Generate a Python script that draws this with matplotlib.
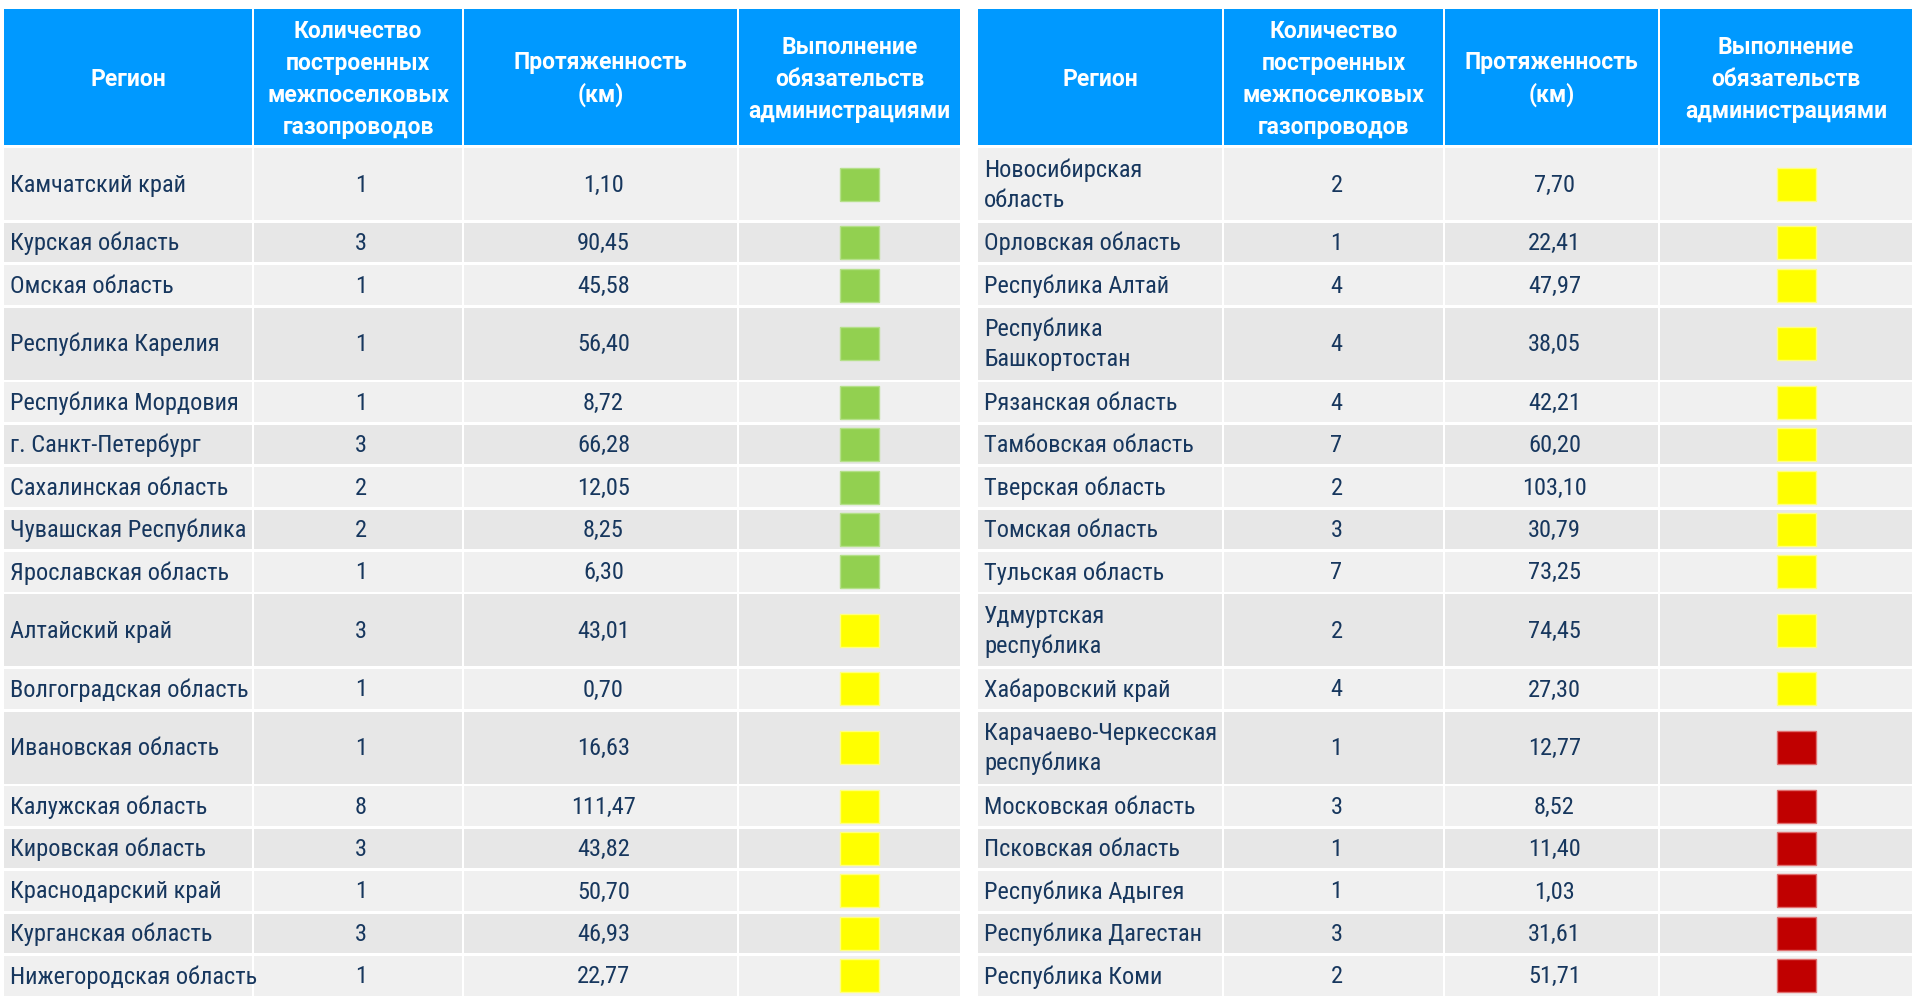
import matplotlib
matplotlib.use("Agg")
import matplotlib.pyplot as plt
from matplotlib import font_manager as fm
from matplotlib.patches import Rectangle

# --- data ---------------------------------------------------------------
headers = ["Регион",
           "Количество\nпостроенных\nмежпоселковых\nгазопроводов",
           "Протяженность\n(км)",
           "Выполнение\nобязательств\nадминистрациями"]

left_regions = ["Камчатский край", "Курская область", "Омская область",
                "Республика Карелия", "Республика Мордовия", "г. Санкт-Петербург",
                "Сахалинская область", "Чувашская Республика", "Ярославская область",
                "Алтайский край", "Волгоградская область", "Ивановская область",
                "Калужская область", "Кировская область", "Краснодарский край",
                "Курганская область", "Нижегородская область"]
left_counts = [1, 3, 1, 1, 1, 3, 2, 2, 1, 3, 1, 1, 8, 3, 1, 3, 1]
left_length = ["1,10", "90,45", "45,58", "56,40", "8,72", "66,28", "12,05", "8,25",
               "6,30", "43,01", "0,70", "16,63", "111,47", "43,82", "50,70",
               "46,93", "22,77"]
left_status = ["green"] * 9 + ["yellow"] * 8

right_regions = ["Новосибирская\nобласть", "Орловская область", "Республика Алтай",
                 "Республика\nБашкортостан", "Рязанская область", "Тамбовская область",
                 "Тверская область", "Томская область", "Тульская область",
                 "Удмуртская\nреспублика", "Хабаровский край",
                 "Карачаево-Черкесская\nреспублика", "Московская область",
                 "Псковская область", "Республика Адыгея", "Республика Дагестан",
                 "Республика Коми"]
right_counts = [2, 1, 4, 4, 4, 7, 2, 3, 7, 2, 4, 1, 3, 1, 1, 3, 2]
right_length = ["7,70", "22,41", "47,97", "38,05", "42,21", "60,20", "103,10",
                "30,79", "73,25", "74,45", "27,30", "12,77", "8,52", "11,40",
                "1,03", "31,61", "51,71"]
right_status = ["yellow"] * 11 + ["red"] * 6

status_colors = {"green": "#92D050", "yellow": "#FFFF00", "red": "#C00000"}
status_edges = {"green": "#B5E08A", "yellow": "#FFFF80", "red": "#E07070"}

# --- layout (pixels) ----------------------------------------------------
W, H = 1913, 996
HEAD_TOP, HEAD_BOT = 9, 145
ROW_START = 148
SHORT_H, TALL_H, GAP = 39.6, 72, 2.8
left_cols = [3, 253, 463, 738, 961]
right_cols = [977, 1223, 1444, 1659, 1913]

HEAD_BLUE = "#0099FF"
ROW_LIGHT, ROW_DARK = "#F0F0F0", "#E7E7E7"
TEXT = "#17375E"

# narrow sans for the body, like Arial Narrow in the source
installed = {f.name for f in fm.fontManager.ttflist}
body_family = "DejaVu Sans"
body_stretch = "condensed"
for cand in ["Roboto Condensed", "Fira Sans Condensed", "IBM Plex Sans Condensed"]:
    if cand in installed:
        body_family, body_stretch = cand, "condensed"
        break
head_font = ["Roboto", "DejaVu Sans"]
BODY = dict(color=TEXT, fontsize=17.6, family=body_family, fontstretch=body_stretch,
            va="center")

fig = plt.figure(figsize=(W / 100, H / 100), dpi=100)
ax = fig.add_axes([0, 0, 1, 1])
ax.set_xlim(0, W)
ax.set_ylim(H, 0)
ax.axis("off")

# row geometry follows from whether a region name wraps on either side
tall = ["\n" in a or "\n" in b for a, b in zip(left_regions, right_regions)]
row_tops, row_h = [], []
y = ROW_START
for t in tall:
    h = TALL_H if t else SHORT_H
    row_tops.append(y)
    row_h.append(h)
    y += h + GAP


def draw_table(cols, regions, counts, lengths, status):
    # header
    for j, title in enumerate(headers):
        x0, x1 = cols[j], cols[j + 1]
        ax.add_patch(Rectangle((x0 + 1, HEAD_TOP), x1 - x0 - 2, HEAD_BOT - HEAD_TOP,
                               color=HEAD_BLUE, lw=0))
        ax.text((x0 + x1) / 2, (HEAD_TOP + HEAD_BOT) / 2 + 2, title, color="white",
                fontsize=16.5, fontweight="bold", family=head_font,
                ha="center", va="center", linespacing=1.5)
    # body
    for i in range(len(regions)):
        top, h = row_tops[i], row_h[i]
        bg = ROW_LIGHT if i % 2 == 0 else ROW_DARK
        for j in range(4):
            x0, x1 = cols[j], cols[j + 1]
            ax.add_patch(Rectangle((x0 + 1, top), x1 - x0 - 2, h, color=bg, lw=0))
        yc = top + h / 2
        ax.text(cols[0] + 7, yc + 1, regions[i], ha="left", linespacing=1.38, **BODY)
        ax.text((cols[1] + cols[2]) / 2 + 3, yc + 1, str(counts[i]), ha="center", **BODY)
        ax.text((cols[2] + cols[3]) / 2 + 3, yc + 1, lengths[i], ha="center", **BODY)
        cx = (cols[3] + cols[4]) / 2 + 10
        ax.add_patch(Rectangle((cx - 19.5, yc - 16.5), 39, 33,
                               facecolor=status_colors[status[i]],
                               edgecolor=status_edges[status[i]], lw=1))


draw_table(left_cols, left_regions, left_counts, left_length, left_status)
draw_table(right_cols, right_regions, right_counts, right_length, right_status)

fig.savefig("out.png", dpi=100, facecolor="white")
